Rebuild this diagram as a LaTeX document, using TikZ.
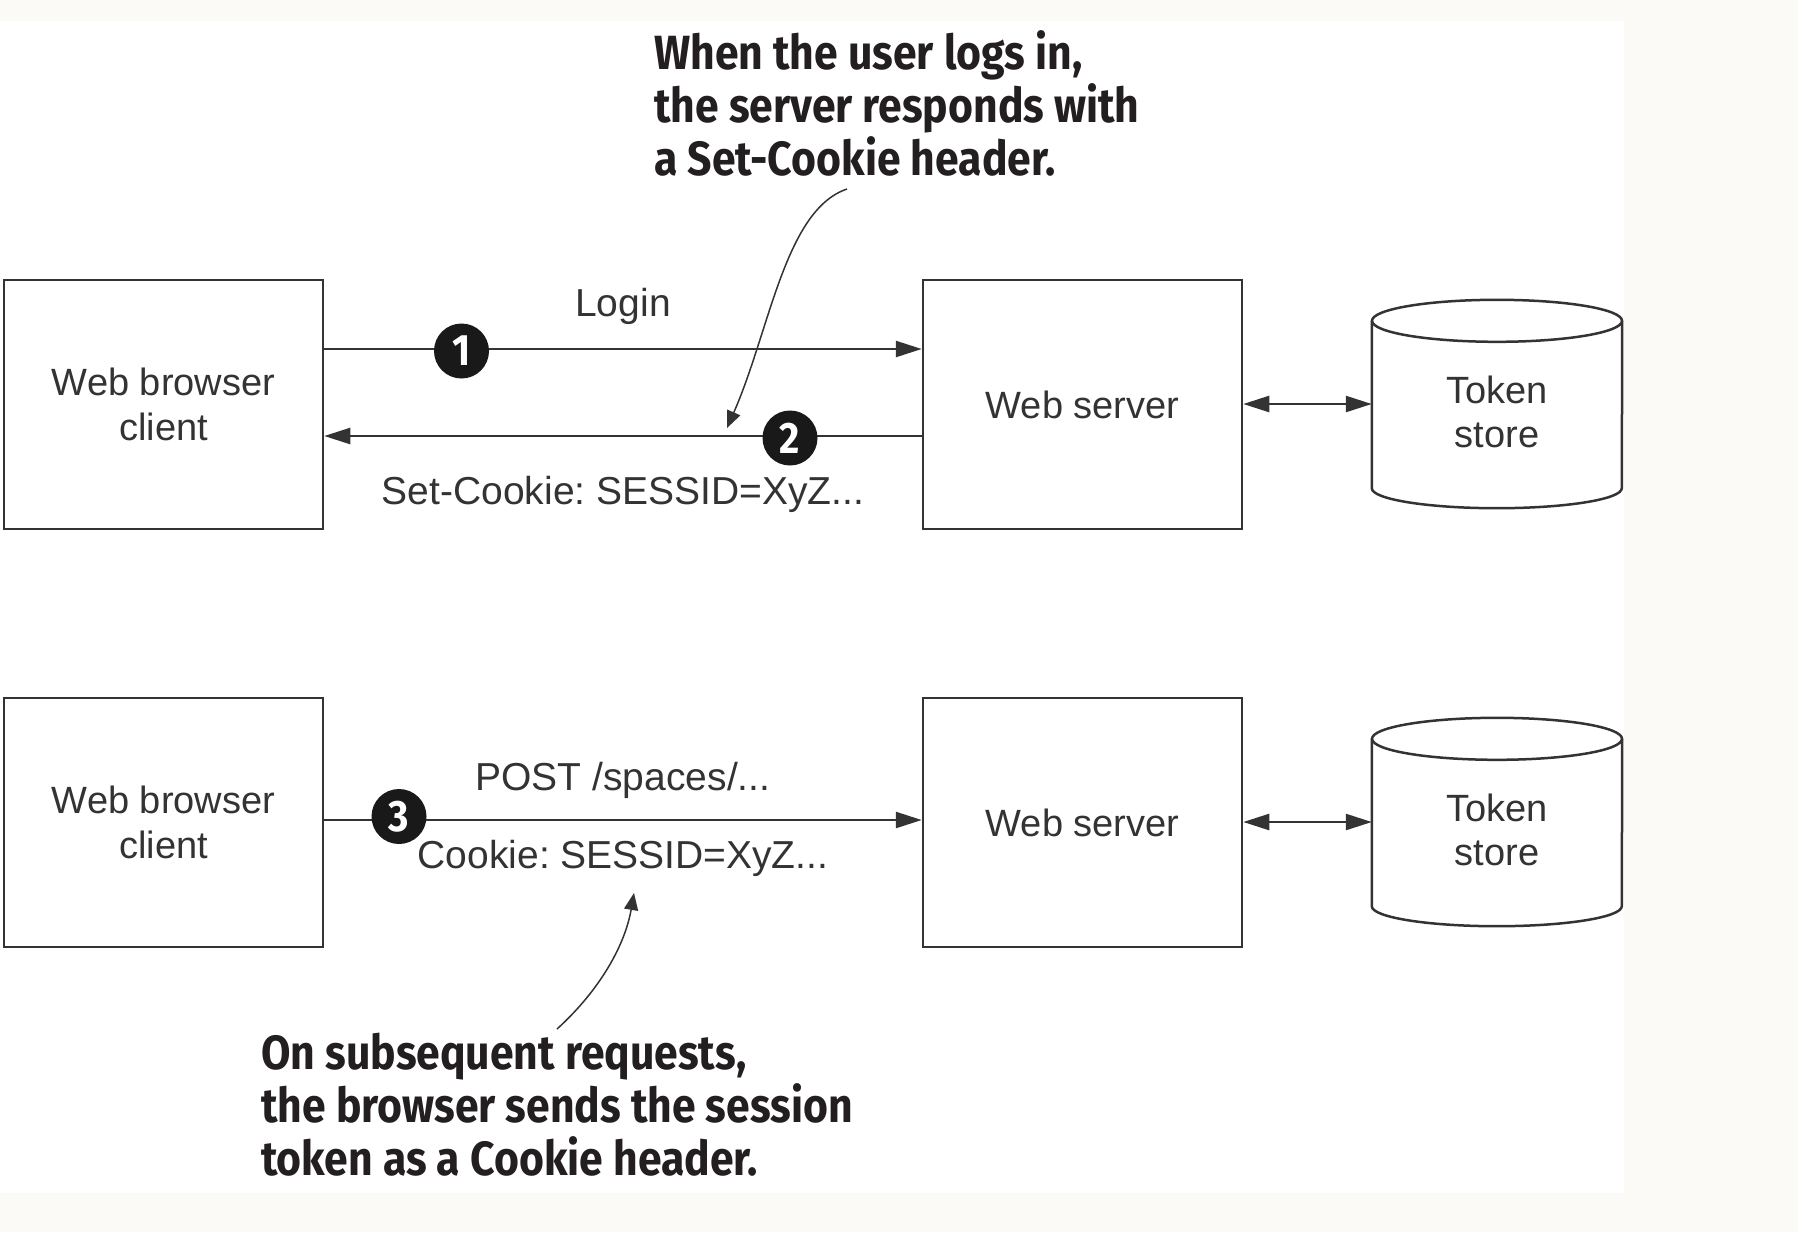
\documentclass[tikz,border=0pt]{standalone}
\usepackage{fontspec}
\setmainfont{Liberation Sans}
\newfontfamily\annfont{Fira Sans}[FakeStretch=0.89]
\usetikzlibrary{arrows.meta,calc}
\definecolor{bgc}{HTML}{FBFAF6}
\definecolor{ink}{HTML}{333333}
\definecolor{annink}{HTML}{231F20}
\frenchspacing
\begin{document}
\begin{tikzpicture}[x=1pt,y=-1pt,
  boxnode/.style={draw=ink, line width=2.5pt, minimum width=319pt, minimum height=249pt, inner sep=0pt,
    align=center, text=ink, font=\fontsize{38}{45}\selectfont},
  storenode/.style={minimum width=250pt, minimum height=208pt, inner sep=0pt},
  storetext/.style={align=center, text=ink, inner sep=0pt, font=\fontsize{38}{44}\selectfont},
  cylline/.style={draw=ink, line width=2.5pt},
  lbl/.style={text=ink, inner sep=0pt, anchor=base, font=\fontsize{39}{45}\selectfont},
  conn/.style={draw=ink, line width=2.5pt},
  tipa/.tip={Triangle[length=26pt,width=16pt]},
  tipb/.tip={Triangle[length=17pt,width=14pt]},
  numc/.style={circle, fill=black!90, minimum size=55pt, inner sep=0pt, text=white,
    font=\annfont\bfseries\fontsize{44}{44}\selectfont},
  ann/.style={anchor=base west, align=left, inner sep=0pt, text=annink,
    font=\annfont\bfseries\fontsize{48}{53}\selectfont},
  annarr/.style={draw=ink, line width=1.5pt, -tipb}
]
\fill[bgc] (0,0) rectangle (1798,1232);
\fill[white] (0,21) rectangle (1624,1193);
\useasboundingbox (0,0) rectangle (1798,1232);

% ---- top row ----
\node[boxnode] (client1) at (163.5,404.5) {Web browser\\client};
\node[boxnode] (server1) at (1082.5,404.5) {Web server};
\node[storenode] (store1) at (1497,404) {};
\draw[cylline] ([yshift=-21pt]store1.north west) -- ([yshift=20pt]store1.south west)
  arc[start angle=180,end angle=360,x radius=125pt,y radius=20pt] -- ([yshift=-21pt]store1.north east);
\draw[cylline] ([yshift=-21pt]store1.north) ellipse [x radius=125pt, y radius=21pt];
\node[storetext] (store1t) at (1497,412) {Token\\store};

\draw[conn,-tipa] (client1.east |- 0,349) -- (server1.west |- 0,349);
\draw[conn,-tipa] (server1.west |- 0,436) -- (client1.east |- 0,436);
\draw[conn,tipa-tipa] (server1.east |- store1.west) -- (store1.west);
\node[numc] (n1) at (461.5,351) {1};
\node[numc] (n2) at (790,438) {2};
\node[lbl] (login) at (623,316) {Login};
\node[lbl] (setck) at (623,504) {Set-Cookie: SESSID=XyZ...};

% ---- bottom row ----
\node[boxnode] (client2) at (163.5,822.5) {Web browser\\client};
\node[boxnode] (server2) at (1082.5,822.5) {Web server};
\node[storenode] (store2) at (1497,822) {};
\draw[cylline] ([yshift=-21pt]store2.north west) -- ([yshift=20pt]store2.south west)
  arc[start angle=180,end angle=360,x radius=125pt,y radius=20pt] -- ([yshift=-21pt]store2.north east);
\draw[cylline] ([yshift=-21pt]store2.north) ellipse [x radius=125pt, y radius=21pt];
\node[storetext] (store2t) at (1497,830) {Token\\store};

\draw[conn,-tipa] (client2.east |- 0,820) -- (server2.west |- 0,820);
\draw[conn,tipa-tipa] (server2.east |- store2.west) -- (store2.west);
\node[numc] (n3) at (399,816.5) {3};
\node[lbl] (post) at (623,790) {POST /spaces/...};
\node[lbl] (ck) at (623,868) {Cookie: SESSID=XyZ...};

% ---- annotations (anchor = baseline of last line) ----
\node[ann] (ann1) at (654,175) {When the user logs in,\\the server responds with\\a Set-Cookie header.};
\node[ann] (ann2) at (261,1175) {On subsequent requests,\\the browser sends the session\\token as a Cookie header.};
\coordinate (a1s) at (847,189);
\coordinate (a1e) at (727,428);
\coordinate (a2s) at (557,1029);
\coordinate (a2e) at (634,893);
\draw[annarr] (a1s) .. controls (785,210) and (770,330) .. (a1e);
\draw[annarr] (a2s) .. controls (600,990) and (625,945) .. (a2e);
\end{tikzpicture}
\end{document}
